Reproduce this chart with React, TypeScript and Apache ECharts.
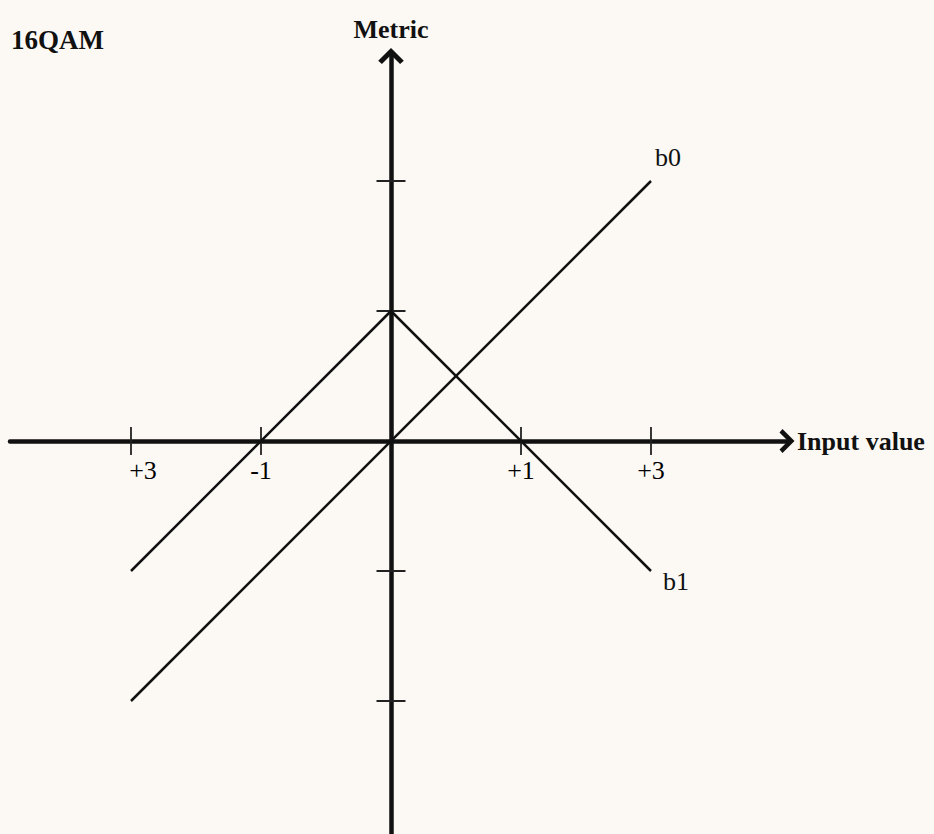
import React, { useEffect, useRef } from "react";
import * as echarts from "echarts";

const title = "16QAM";
const xAxisName = "Input value";
const yAxisName = "Metric";
const xTickPositions = [-2, -1, 1, 2];
const xTickLabels = ["+3", "-1", "+1", "+3"];
const yTickPositions = [-2, -1, 1, 2];
const b0Points: [number, number][] = [[-2, -2], [2, 2]];
const b1Points: [number, number][] = [[-2, -1], [0, 1], [2, -1]];

const UNIT = 130;
const ORIGIN_X = 391;
const ORIGIN_Y = 441;
const GRID_LEFT = 10;
const GRID_RIGHT_END = 787;
const GRID_TOP = 56;
const GRID_BOTTOM_END = 834;

const CHEVRON = "path://M0 12 L12 0 L24 12 L20.5 15 L12 6.5 L3.5 15 Z";
const FONT = "'Liberation Serif', 'Times New Roman', serif";
const INK = "#111";

export default function App() {
  const ref = useRef<HTMLDivElement>(null);
  useEffect(() => {
    document.body.style.margin = "0";
    const chart = echarts.init(ref.current!, undefined, { renderer: "svg" });
    chart.setOption({
      animation: false,
      backgroundColor: "#fcf9f4",
      textStyle: { fontFamily: FONT },
      title: {
        text: title,
        left: 6,
        top: 21,
        textStyle: { fontFamily: FONT, fontSize: 27, fontWeight: "bold", color: INK },
      },
      grid: {
        left: GRID_LEFT,
        top: GRID_TOP,
        width: GRID_RIGHT_END - GRID_LEFT,
        height: GRID_BOTTOM_END - GRID_TOP,
        outerBoundsMode: "none",
        containLabel: false,
      },
      xAxis: {
        type: "value",
        min: -(ORIGIN_X - GRID_LEFT) / UNIT,
        max: (GRID_RIGHT_END - ORIGIN_X) / UNIT,
        name: xAxisName,
        nameLocation: "end",
        nameGap: 10,
        nameTextStyle: { fontFamily: FONT, fontSize: 26, fontWeight: "bold", color: INK },
        axisLine: {
          onZero: true,
          symbol: ["none", CHEVRON],
          symbolSize: [24, 16],
          lineStyle: { color: INK, width: 4.5 },
        },
        axisTick: { show: false },
        splitLine: { show: false },
        axisLabel: { show: false },
      },
      yAxis: {
        type: "value",
        min: -(GRID_BOTTOM_END - ORIGIN_Y) / UNIT,
        max: (ORIGIN_Y - GRID_TOP) / UNIT,
        name: yAxisName,
        nameLocation: "end",
        nameGap: 14,
        nameTextStyle: { fontFamily: FONT, fontSize: 26, fontWeight: "bold", color: INK },
        axisLine: {
          onZero: true,
          symbol: ["none", CHEVRON],
          symbolSize: [27, 16],
          lineStyle: { color: INK, width: 4.5 },
        },
        axisTick: { show: false },
        axisLabel: { show: false },
        splitLine: { show: false },
      },
      series: [
        {
          type: "scatter",
          data: xTickPositions.map((p, i) => ({
            value: [p, 0],
            label: i === 0 ? { offset: [12, 0] } : {},
          })),
          symbol: "rect",
          symbolSize: [1.8, 28],
          itemStyle: { color: "#222", opacity: 1 },
          label: {
            show: true,
            position: "bottom",
            distance: 2,
            formatter: (p: any) => xTickLabels[p.dataIndex],
            fontFamily: FONT,
            fontSize: 26,
            color: "#000",
            opacity: 1,
          },
          emphasis: { disabled: true },
          silent: true,
          z: 1,
        },
        {
          type: "scatter",
          data: yTickPositions.map((p) => [0, p]),
          symbol: "rect",
          symbolSize: [29, 2],
          itemStyle: { color: "#222", opacity: 1 },
          emphasis: { disabled: true },
          silent: true,
          z: 1,
        },
        {
          name: "b0",
          type: "line",
          data: b0Points,
          showSymbol: false,
          lineStyle: { color: INK, width: 2.5 },
          endLabel: {
            show: true,
            formatter: "{a}",
            offset: [-4, -24],
            fontFamily: FONT,
            fontSize: 26,
            color: INK,
          },
          z: 3,
        },
        {
          name: "b1",
          type: "line",
          data: b1Points,
          showSymbol: false,
          lineStyle: { color: INK, width: 2.5 },
          endLabel: {
            show: true,
            formatter: "{a}",
            offset: [4, 10],
            fontFamily: FONT,
            fontSize: 26,
            color: INK,
          },
          z: 3,
        },
      ],
    });
    return () => chart.dispose();
  }, []);
  return <div ref={ref} style={{ width: 934, height: 834 }} />;
}
